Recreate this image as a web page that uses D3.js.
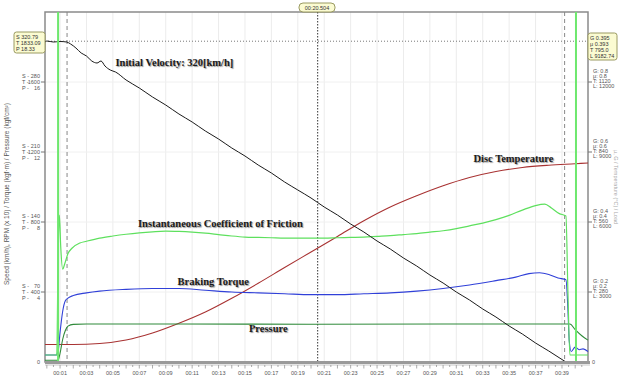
<!DOCTYPE html>
<html>
<head>
<meta charset="utf-8">
<script src="https://cdn.jsdelivr.net/npm/d3@7"></script>
<style>
body { margin: 0; background: #fff; }
.lbl { font-family: "Liberation Serif", "Times New Roman", serif; font-weight: bold; font-size: 10.5px; fill: #1a1a1a; text-shadow: 1px 1px 1px #999; }
.tk { font-family: "Liberation Sans", Arial, sans-serif; font-size: 5.5px; fill: #555; }
.box { font-family: "Liberation Sans", Arial, sans-serif; font-size: 5.5px; fill: #333; }
</style>
</head>
<body>
<script>
var width = 621,
    height = 377;

// chart values
var speedTime = [-0.14, 0, 0.5, 1, 1.5, 1.8, 2.2, 2.6, 3, 3.4, 3.8, 4.1, 4.4, 4.8, 5.2, 6, 7, 8, 9, 10, 11, 12, 13, 14, 15, 16, 17, 18, 19, 20, 21, 22, 23, 24, 25, 26, 27, 28, 29, 30, 31, 32, 33, 34, 35, 36, 37, 38, 39, 39.3];
var speed = [320, 321, 320, 320.5, 320, 318, 314, 309, 306, 301, 299, 301, 296, 292, 290, 282, 274, 265, 257, 248, 240, 231, 223, 214, 206, 197, 189, 180, 172, 164, 155, 147, 138, 130, 121, 113, 104, 96, 87, 79, 70, 62, 53, 45, 36, 28, 19, 11, 2.5, 0];

var tempTime = [-0.14, 2, 4, 6, 8, 10, 12, 14, 16, 18, 20, 22, 24, 26, 28, 30, 32, 34, 36, 38, 40, 40.97];
var temp = [70, 70, 74, 88, 116, 155, 200, 255, 315, 378, 440, 502, 565, 620, 665, 705, 738, 762, 778, 787, 793, 796];

var muTime = [-0.14, 0.75, 0.85, 0.95, 1.05, 1.2, 1.35, 1.6, 1.9, 2.5, 3, 4, 5, 6, 7, 8, 9, 10, 11, 12, 13, 14, 15, 16, 17, 18, 19, 20, 21, 22, 23, 24, 25, 26, 27, 28, 29, 30, 31, 32, 33, 34, 35, 36, 37, 37.7, 38.2, 38.8, 39.3, 39.45, 39.6, 40.97];
var mu = [0.02, 0.02, 0.30, 0.42, 0.33, 0.265, 0.28, 0.31, 0.325, 0.34, 0.345, 0.354, 0.36, 0.365, 0.369, 0.372, 0.374, 0.373, 0.371, 0.368, 0.364, 0.36, 0.357, 0.356, 0.355, 0.354, 0.354, 0.354, 0.354, 0.355, 0.356, 0.357, 0.359, 0.361, 0.364, 0.367, 0.371, 0.375, 0.381, 0.389, 0.397, 0.407, 0.419, 0.434, 0.447, 0.451, 0.44, 0.424, 0.417, 0.2, 0.02, 0.02];

var torqueTime = [-0.14, 0.7, 0.85, 1.0, 1.2, 1.4, 1.6, 2, 3, 4, 6, 8, 10, 12, 14, 16, 18, 20, 22, 24, 26, 28, 30, 32, 34, 35.5, 36.5, 37.3, 38, 38.7, 39.3, 39.45, 39.55, 39.7, 40, 40.3, 40.6, 40.97];
var torque = [40, 40, 60, 170, 290, 350, 365, 380, 395, 405, 415, 420, 420, 410, 400, 395, 390, 385, 385, 390, 395, 405, 420, 440, 465, 485, 505, 510, 500, 480, 470, 300, 120, 60, 85, 70, 75, 60];

var pressTime = [-0.14, 0.85, 1.0, 1.2, 1.4, 1.6, 2, 3, 10, 20, 30, 39.6, 40, 40.5, 40.97];
var pressure = [0.1, 0.1, 0.5, 1.3, 1.8, 2.05, 2.15, 2.17, 2.17, 2.16, 2.17, 2.17, 1.85, 1.5, 1.25];

var leftS = [70, 140, 210, 280];
var leftT = [400, 800, 1200, 1600];
var leftP = [4, 8, 12, 16];
var rightG = ["0.2", "0.4", "0.6", "0.8"];
var rightMu = ["0.2", "0.4", "0.6", "0.8"];
var rightT = [280, 560, 840, 1120];
var rightL = [3000, 6000, 9000, 12000];
var timeLabels = d3.range(1, 40, 2);

var cursorTime = 20.504,
    startLines = [0.85, 40.06],
    dashLines = [1.53, 39.2];

// scales
var x = d3.scaleLinear().domain([-0.14, 40.97]).range([45, 588]);
var yS = d3.scaleLinear().domain([0, 350]).range([362, 12]);
var yTq = d3.scaleLinear().domain([0, 2000]).range([362, 12]);
var yP = d3.scaleLinear().domain([0, 20]).range([362, 12]);
var yMu = d3.scaleLinear().domain([0, 1]).range([362, 12]);
var yTemp = d3.scaleLinear().domain([0, 1400]).range([362, 12]);

var svg = d3.select("body").append("svg")
    .attr("width", width)
    .attr("height", height);

// grid
svg.append("g").selectAll("line")
    .data(timeLabels)
    .enter().append("line")
    .attr("x1", d => x(d)).attr("x2", d => x(d))
    .attr("y1", 12).attr("y2", 362)
    .attr("stroke", "#ececec").attr("stroke-width", 1);

svg.append("g").selectAll("line")
    .data(leftS)
    .enter().append("line")
    .attr("x1", 45).attr("x2", 588)
    .attr("y1", d => yS(d)).attr("y2", d => yS(d))
    .attr("stroke", "#f0f0f0").attr("stroke-width", 1);

// frame
svg.append("rect")
    .attr("x", 45).attr("y", 12)
    .attr("width", 543).attr("height", 350)
    .attr("fill", "none").attr("stroke", "#8a8a8a").attr("stroke-width", 1.5);

// horizontal cursor
svg.append("line")
    .attr("x1", 45).attr("x2", 588)
    .attr("y1", yS(320.79)).attr("y2", yS(320.79))
    .attr("stroke", "#777").attr("stroke-dasharray", "1,2");

// dashed markers
svg.append("g").selectAll("line")
    .data(dashLines)
    .enter().append("line")
    .attr("x1", d => x(d)).attr("x2", d => x(d))
    .attr("y1", 12).attr("y2", 362)
    .attr("stroke", "#888").attr("stroke-dasharray", "4,3");

// centre cursor
svg.append("line")
    .attr("x1", x(cursorTime)).attr("x2", x(cursorTime))
    .attr("y1", 12).attr("y2", 362)
    .attr("stroke", "#333").attr("stroke-dasharray", "1.5,1.5");

// series
function series(times, vals, yScale, color, w) {
    var line = d3.line()
        .x((d, i) => x(times[i]))
        .y(d => yScale(d))
        .curve(d3.curveMonotoneX);
    svg.append("path")
        .datum(vals)
        .attr("fill", "none")
        .attr("stroke", color)
        .attr("stroke-width", w)
        .attr("d", line);
}

series(tempTime, temp, yTemp, "#a83232", 1.1);
series(pressTime, pressure, yP, "#2f8a3a", 1.1);
series(torqueTime, torque, yTq, "#3040d8", 1.1);
series(muTime, mu, yMu, "#5ee05e", 1.2);
series(speedTime, speed, yS, "#1a1a1a", 1);

// bright green start / stop lines
svg.append("g").selectAll("line")
    .data(startLines)
    .enter().append("line")
    .attr("x1", d => x(d)).attr("x2", d => x(d))
    .attr("y1", 12).attr("y2", 362)
    .attr("stroke", "#6ee86e").attr("stroke-width", 2);

// bottom axis
svg.append("line")
    .attr("x1", 45).attr("x2", 590)
    .attr("y1", 362.5).attr("y2", 362.5)
    .attr("stroke", "#9a9a9a").attr("stroke-width", 3);
svg.append("line")
    .attr("x1", 45).attr("x2", 590)
    .attr("y1", 365).attr("y2", 365)
    .attr("stroke", "#c8c8c8").attr("stroke-width", 1);

svg.append("g").selectAll("line")
    .data(d3.range(0, 41, 0.5))
    .enter().append("line")
    .attr("x1", d => x(d)).attr("x2", d => x(d))
    .attr("y1", 365).attr("y2", d => d % 1 === 0 ? 368.5 : 367)
    .attr("stroke", "#888").attr("stroke-width", 0.7);

svg.append("g").selectAll("text")
    .data(timeLabels)
    .enter().append("text")
    .attr("class", "tk")
    .attr("x", d => x(d)).attr("y", 375)
    .attr("text-anchor", "middle")
    .text(d => "00:" + d3.format("02d")(d));

// left axis labels
var leftG = svg.append("g").selectAll("g")
    .data(leftS)
    .enter().append("g")
    .attr("transform", d => "translate(0," + yS(d) + ")");
leftG.append("line").attr("x1", 41).attr("x2", 45).attr("stroke", "#777");
leftG.append("text").attr("class", "tk").attr("x", 40).attr("y", -4).attr("text-anchor", "end").text(d => d);
leftG.append("text").attr("class", "tk").attr("x", 40).attr("y", 2).attr("text-anchor", "end").text((d, i) => leftT[i]);
leftG.append("text").attr("class", "tk").attr("x", 40).attr("y", 8).attr("text-anchor", "end").text((d, i) => leftP[i]);
leftG.append("text").attr("class", "tk").attr("x", 22).attr("y", -4).text("S -");
leftG.append("text").attr("class", "tk").attr("x", 22).attr("y", 2).text("T -");
leftG.append("text").attr("class", "tk").attr("x", 22).attr("y", 8).text("P -");

svg.append("text").attr("class", "tk").attr("x", 40).attr("y", 364).attr("text-anchor", "end").text("0");
svg.append("text").attr("class", "tk").attr("x", 592).attr("y", 364).text("0");

// right axis labels
var rightGrp = svg.append("g").selectAll("g")
    .data(leftS)
    .enter().append("g")
    .attr("transform", d => "translate(0," + yS(d) + ")");
rightGrp.append("line").attr("x1", 588).attr("x2", 592).attr("stroke", "#777");
rightGrp.append("text").attr("class", "tk").attr("x", 593).attr("y", -9).text((d, i) => "G: " + rightG[i]);
rightGrp.append("text").attr("class", "tk").attr("x", 593).attr("y", -4).text((d, i) => "\u03bc: " + rightMu[i]);
rightGrp.append("text").attr("class", "tk").attr("x", 593).attr("y", 1).text((d, i) => "T: " + rightT[i]);
rightGrp.append("text").attr("class", "tk").attr("x", 593).attr("y", 6).text((d, i) => "L: " + rightL[i]);

// axis titles
svg.append("text")
    .attr("class", "tk")
    .style("font-size", "6.5px")
    .attr("transform", "translate(9,285) rotate(-90)")
    .text("Speed (km/h), RPM (x 10) / Torque (kgf\u00b7m) / Pressure (kgf/cm\u00b2)");
svg.append("text")
    .attr("class", "tk")
    .style("fill", "#aaa")
    .attr("transform", "translate(614,150) rotate(90)")
    .text("\u03bc, G / Temperature (\u00b0C) / Load");

// readout boxes
function readout(bx, by, bw, lines) {
    svg.append("rect")
        .attr("x", bx).attr("y", by)
        .attr("width", bw).attr("height", lines.length * 6 + 3)
        .attr("rx", 2.5)
        .attr("fill", "#fbfbd2").attr("stroke", "#9a9a62");
    svg.append("g").selectAll("text")
        .data(lines)
        .enter().append("text")
        .attr("class", "box")
        .attr("x", bx + 2).attr("y", (d, i) => by + 7 + i * 6)
        .text(d => d);
}
readout(14, 32, 31, ["S   320.79", "T 1833.09", "P     18.33"]);
readout(588, 33, 29, ["G   0.395", "\u03bc   0.393", "T   795.0", "L 9182.74"]);

svg.append("rect")
    .attr("x", 299).attr("y", 3)
    .attr("width", 36).attr("height", 9)
    .attr("rx", 4)
    .attr("fill", "#fbfbd2").attr("stroke", "#9a9a62");
svg.append("text")
    .attr("class", "box")
    .attr("x", 317).attr("y", 9.6)
    .attr("text-anchor", "middle")
    .text("00:20.504");

// series labels
var labels = [
    { text: "Initial Velocity: 320[km/h]", t: 5.2, v: 296, s: yS },
    { text: "Disc Temperature", t: 32.3, v: 800, s: yTemp },
    { text: "Instantaneous Coefficient of Friction", t: 6.9, v: 0.386, s: yMu },
    { text: "Braking Torque", t: 9.9, v: 440, s: yTq },
    { text: "Pressure", t: 15.3, v: 1.7, s: yP }
];
svg.append("g").selectAll("text")
    .data(labels)
    .enter().append("text")
    .attr("class", "lbl")
    .attr("x", d => x(d.t))
    .attr("y", d => d.s(d.v))
    .text(d => d.text);
</script>
</body>
</html>
